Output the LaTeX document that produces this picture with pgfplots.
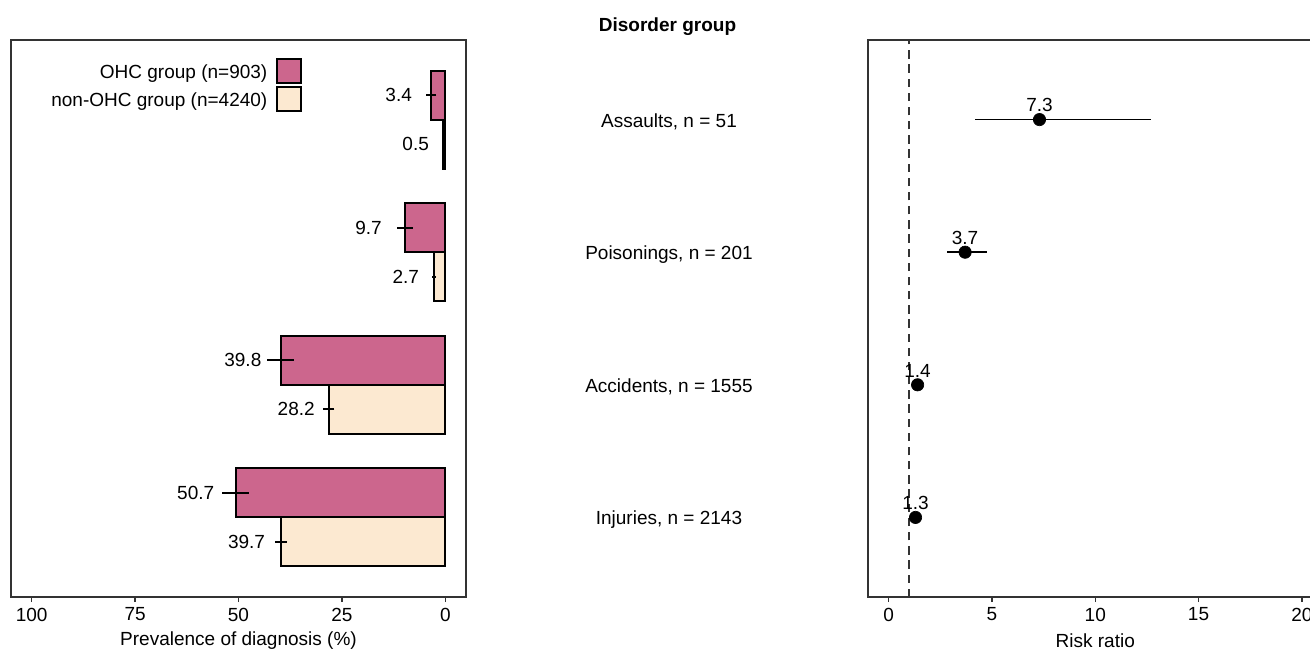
\documentclass[border=0pt]{standalone}
\usepackage{pgfplots}
\usepackage{pgfplotstable}
\pgfplotsset{compat=1.18}
\usepackage{fontspec}
\setmainfont{Liberation Sans}
\definecolor{ohc}{RGB}{204,102,141}
\definecolor{nonohc}{RGB}{252,233,209}
\definecolor{axgray}{RGB}{51,51,51}

\pgfplotstableread{
pos val err lx lab
4.185 3.4 1.18 8.0 3.4
3.185 9.7 1.93 15.3 9.7
2.185 39.8 3.19 44.4 39.8
1.185 50.7 3.26 55.8 50.7
}\ohcdata
\pgfplotstableread{
pos val err lx lab
3.815 0.5 0.21 3.9 0.5
2.815 2.7 0.49 6.3 2.7
1.815 28.2 1.35 31.5 28.2
0.815 39.7 1.47 43.5 39.7
}\nonohcdata
\pgfplotstableread{
pos rr em ep lab
4 7.3 3.1 5.4 7.3
3 3.7 0.9 1.05 3.7
2 1.4 0.12 0.13 1.4
1 1.3 0.08 0.09 1.3
}\rrdata

\pgfplotsset{
  myax/.style={
    scale only axis, anchor=south west,
    ymin=0.4, ymax=4.6, enlargelimits=false,
    axis line style={draw=axgray, line width=0.8pt},
    tick style={axgray, line width=0.8pt},
    tick align=outside, major tick length=3pt,
    xtick pos=bottom, ytick pos=left,
    font=\fontsize{11.4}{13.6}\selectfont,
    /pgf/number format/assume math mode=true,
    xlabel style={at={(axis description cs:0.5,0)}, anchor=center, yshift=-26.4pt},
  }
}

\begin{document}
\begin{tikzpicture}
\useasboundingbox (0pt,0pt) rectangle (786pt,390.6pt);
\clip (0pt,0pt) rectangle (786pt,390.6pt);

\begin{axis}[myax,
  at={(6.6pt,32.4pt)}, width=273pt, height=334.2pt,
  xmin=-5, xmax=105, x dir=reverse,
  xtick={0,25,50,75,100}, ytick=\empty,
  xlabel={Prevalence of diagnosis (\%)},
  legend style={draw=none, fill=none, at={(axis description cs:0.6396,0.9678)}, anchor=north east,
    row sep=1.1pt, inner sep=0pt, font=\fontsize{11.4}{13.6}\selectfont,
    /tikz/every odd column/.append style={column sep=3pt}},
  legend cell align=right, legend plot pos=right,
  legend image code/.code={\draw[#1, line width=1.2pt] (0pt,-6.3pt) rectangle (14.4pt,8.1pt);},
]
\addplot[xbar, bar width=0.37, bar shift=0pt, fill=ohc, draw=black, line width=1.2pt,
  error bars/.cd, x dir=both, x explicit, error mark=none,
  error bar style={line width=1.3pt, black}]
  table[x=val, y=pos, x error=err] {\ohcdata};
\addlegendentry{OHC group (n=903)}
\addplot[xbar, bar width=0.37, bar shift=0pt, fill=nonohc, draw=black, line width=1.2pt,
  error bars/.cd, x dir=both, x explicit, error mark=none,
  error bar style={line width=1.3pt, black}]
  table[x=val, y=pos, x error=err] {\nonohcdata};
\addlegendentry{non-OHC group (n=4240)}
\addplot[draw=none, mark=none, forget plot, nodes near coords, point meta=explicit symbolic,
  nodes near coords align={anchor=east},
  every node near coord/.append style={inner sep=0pt, black, font=\fontsize{11.4}{13.6}\selectfont}]
  table[x=lx, y=pos, meta=lab] {\ohcdata};
\addplot[draw=none, mark=none, forget plot, nodes near coords, point meta=explicit symbolic,
  nodes near coords align={anchor=east},
  every node near coord/.append style={inner sep=0pt, black, font=\fontsize{11.4}{13.6}\selectfont}]
  table[x=lx, y=pos, meta=lab] {\nonohcdata};
\end{axis}

\begin{axis}[myax,
  at={(520.8pt,32.4pt)}, width=272.7pt, height=334.2pt,
  xmin=-1, xmax=21,
  xtick={0,5,10,15,20},
  ytick={1,2,3,4},
  yticklabels={{Injuries, n = 2143},{Accidents, n = 1555},{Poisonings, n = 201},{Assaults, n = 51}},
  ytick style={draw=none},
  yticklabel style={anchor=center, xshift=-116.4pt, yshift=-1.2pt},
  xlabel={Risk ratio},
]
\addplot[axgray, dash pattern=on 5pt off 3.5pt, line width=1.1pt] coordinates {(1,0.4) (1,4.6)};
\addplot[only marks, mark=*, mark size=3.7pt, black,
  mark options={line width=0.4pt, fill=black},
  nodes near coords, point meta=explicit symbolic,
  nodes near coords align={anchor=south},
  every node near coord/.append style={inner sep=0pt, yshift=4.4pt, black, font=\fontsize{11.4}{13.6}\selectfont},
  error bars/.cd, x dir=both, x explicit, error mark=none,
  error bar style={line width=0.9pt, black}]
  table[x=rr, y=pos, x error minus=em, x error plus=ep, meta=lab] {\rrdata};
\end{axis}

\node[font=\fontsize{11.4}{13.6}\selectfont\bfseries] at (400.5pt,374.4pt) {Disorder group};
\end{tikzpicture}
\end{document}
